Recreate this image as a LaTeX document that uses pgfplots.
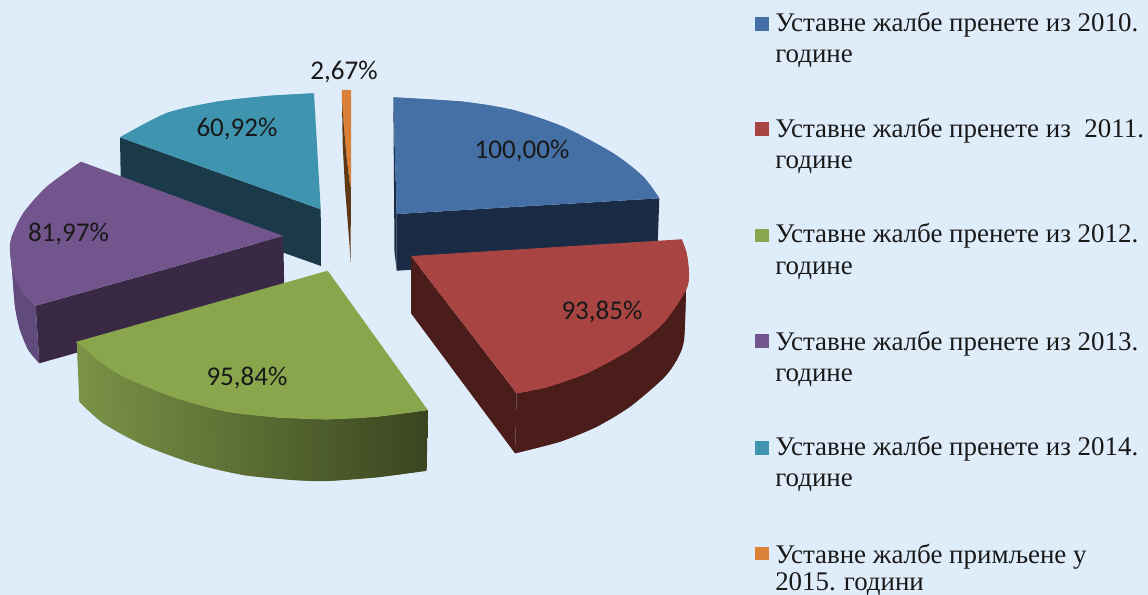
\documentclass[border=0pt]{standalone}
\usepackage{pgfplots}
\pgfplotsset{compat=1.18}
\usepackage{fontspec}
\setmainfont{Liberation Serif}
\newfontfamily\labfont{Carlito}
\definecolor{bg}{HTML}{DFECFA}
\definecolor{cblue}{HTML}{4470A5}
\definecolor{dblue}{HTML}{1A2C45}
\definecolor{cred}{HTML}{A84442}
\definecolor{dred}{HTML}{4A1C1A}
\definecolor{cgreen}{HTML}{8AA64C}
\definecolor{gl}{HTML}{7A9346}
\definecolor{gr}{HTML}{3A4520}
\definecolor{cpur}{HTML}{72558C}
\definecolor{dpur}{HTML}{392945}
\definecolor{mpur}{HTML}{614A7C}
\definecolor{cteal}{HTML}{3F94AF}
\definecolor{dteal}{HTML}{1A3A49}
\definecolor{corg}{HTML}{DA8137}
\definecolor{dorg}{HTML}{5E3814}
\tikzset{
  lab/.style={font=\labfont\fontsize{20.3}{21}\selectfont, text=black!90, inner sep=0pt},
  leg/.style={font=\fontsize{20.2}{22}\selectfont, text=black!90, anchor=base west, inner sep=0pt},
}
\pgfplotsset{
  sq/.style={only marks,mark=square*,mark size=4.7pt,mark options={draw=#1,fill=#1,line width=0pt}},
}
\begin{document}
\begin{tikzpicture}
\begin{axis}[
  width=861pt, height=446.25pt, scale only axis,
  xmin=0, xmax=1148, ymin=0, ymax=595, y dir=reverse,
  hide axis, every axis plot/.append style={draw=none},
]
% background
\addplot[fill=bg,mark=none] coordinates {(0,0) (1148,0) (1148,595) (0,595)};
% teal
\addplot[fill=dteal,mark=none] coordinates {(120,137.3) (320.7,209.3) (321,266) (121,195)};
\addplot[fill=cteal,mark=none] coordinates {(120,137.3) (166.7,113) (216.7,101.7) (266.7,96) (314,93.3) (320.7,209.3)};
\addplot[fill=cteal,mark=none,smooth] coordinates {(120,137.3) (166.7,113) (216.7,101.7) (266.7,96) (314,93.3)};
% orange
\addplot[fill=corg,mark=none] coordinates {(341.7,90) (351,90) (351,188) (350,185) (346.7,158) (344,128) (342,101.7)};
\addplot[fill=dorg,mark=none] coordinates {(342,101.7) (344,128) (346.7,158) (350,185) (351,188) (350.5,262) (349.3,241.7) (345,188) (342.7,145)};
% blue
\addplot[fill=dblue,mark=none] coordinates {(393.3,97.3) (396.7,214) (396.7,270.7) (394.5,252)};
\addplot[fill=dblue,mark=none] coordinates {(396.7,214) (659.3,198.3) (657.3,255) (396.7,270.7)};
\addplot[fill=cblue,mark=none] coordinates {(393.3,97.3) (463.3,101.7) (513.3,110) (563.3,126.7) (613.3,153.3) (643.3,176.7) (659.3,198.3) (396.7,214)};
\addplot[fill=cblue,mark=none,smooth] coordinates {(393.3,97.3) (463.3,101.7) (513.3,110) (563.3,126.7) (613.3,153.3) (643.3,176.7) (659.3,198.3)};
% red
\addplot[fill=dred,mark=none] coordinates {(411,256) (516.7,393.3) (515,453.3) (411,313.3)};
\addplot[fill=dred,mark=none] coordinates {(686,290) (663.3,323.3) (630,350) (586.7,373.3) (546.7,387.3) (516.7,393.3) (515,453.3) (560,441.7) (596.7,426.7) (630,406.7) (663.3,378.3) (676.7,360) (684,340)};
\addplot[fill=dred,mark=none,smooth] coordinates {(515,453.3) (560,441.7) (596.7,426.7) (630,406.7) (663.3,378.3) (676.7,360) (684,340) (686,290)};
\addplot[fill=cred,mark=none] coordinates {(411,256) (681.7,239.3) (686.7,253.3) (689,273.3) (686,290) (663.3,323.3) (630,350) (586.7,373.3) (546.7,387.3) (516.7,393.3)};
\addplot[fill=cred,mark=none,smooth] coordinates {(681.7,239.3) (686.7,253.3) (689,273.3) (686,290) (663.3,323.3) (630,350) (586.7,373.3) (546.7,387.3) (516.7,393.3)};
% purple
\addplot[fill=dpur,mark=none] coordinates {(35.7,305.7) (283.3,236) (284.3,294) (39.3,363.3)};
\addplot[fill=mpur,mark=none] coordinates {(10,250) (13.3,273) (23.3,293) (35.7,305.7) (39.3,363.3) (28.3,350) (20,330) (15,306.7) (12.3,273)};
\addplot[fill=mpur,mark=none,smooth] coordinates {(39.3,363.3) (28.3,350) (20,330) (15,306.7) (12.3,273) (10,250)};
\addplot[fill=cpur,mark=none] coordinates {(81,161.7) (46.7,186.7) (23.3,213) (11.7,236.7) (10,250) (13.3,273) (23.3,293) (35.7,305.7) (283.3,236)};
\addplot[fill=cpur,mark=none,smooth] coordinates {(81,161.7) (46.7,186.7) (23.3,213) (11.7,236.7) (10,250) (13.3,273) (23.3,293) (35.7,305.7)};
% green
\addplot[left color=gl,right color=gr,mark=none] coordinates {(76.7,341.7) (100,361.7) (126.7,378.3) (176.7,398.3) (226.7,411.7) (276.7,417.3) (326.7,419.3) (376.7,416.7) (427.7,410) (426.7,470.7) (376.7,477.3) (326.7,481) (293.3,480) (243.3,475) (193.3,463.3) (143.3,445) (103.3,423.3) (79.3,401.7)};
\addplot[left color=gl,right color=gr,mark=none,smooth] coordinates {(426.7,470.7) (376.7,477.3) (326.7,481) (293.3,480) (243.3,475) (193.3,463.3) (143.3,445) (103.3,423.3) (79.3,401.7)};
\addplot[fill=cgreen,mark=none] coordinates {(76.7,341.7) (100,361.7) (126.7,378.3) (176.7,398.3) (226.7,411.7) (276.7,417.3) (326.7,419.3) (376.7,416.7) (427.7,410) (327.7,270.7)};
\addplot[fill=cgreen,mark=none,smooth] coordinates {(76.7,341.7) (100,361.7) (126.7,378.3) (176.7,398.3) (226.7,411.7) (276.7,417.3) (326.7,419.3) (376.7,416.7) (427.7,410)};
% legend squares
\addplot[sq=cblue] coordinates {(762,24)};
\addplot[sq=cred] coordinates {(762,129)};
\addplot[sq=cgreen] coordinates {(762,235.5)};
\addplot[sq=cpur] coordinates {(762,341)};
\addplot[sq=cteal] coordinates {(762,448)};
\addplot[sq=corg] coordinates {(762,553.5)};
% labels
\node[lab] at (axis cs:522,151) {100,00\%};
\node[lab] at (axis cs:602,312) {93,85\%};
\node[lab] at (axis cs:247,378) {95,84\%};
\node[lab] at (axis cs:68.5,234) {81,97\%};
\node[lab] at (axis cs:237,129.5) {60,92\%};
\node[lab] at (axis cs:344,72) {2,67\%};
% legend text
\node[leg] at (axis cs:775,32) {Уставне жалбе пренете из 2010.};
\node[leg] at (axis cs:775,63) {године};
\node[leg] at (axis cs:775,137.5) {Уставне жалбе пренете из\ \ 2011.};
\node[leg] at (axis cs:775,169) {године};
\node[leg] at (axis cs:775,243) {Уставне жалбе пренете из 2012.};
\node[leg] at (axis cs:775,274) {године};
\node[leg] at (axis cs:775,350) {Уставне жалбе пренете из 2013.};
\node[leg] at (axis cs:775,381) {године};
\node[leg] at (axis cs:775,455) {Уставне жалбе пренете из 2014.};
\node[leg] at (axis cs:775,486) {године};
\node[leg] at (axis cs:775,563) {Уставне жалбе примљене у};
\node[leg] at (axis cs:775,590) {2015.\hspace{6pt}години};
\end{axis}
\end{tikzpicture}
\end{document}
